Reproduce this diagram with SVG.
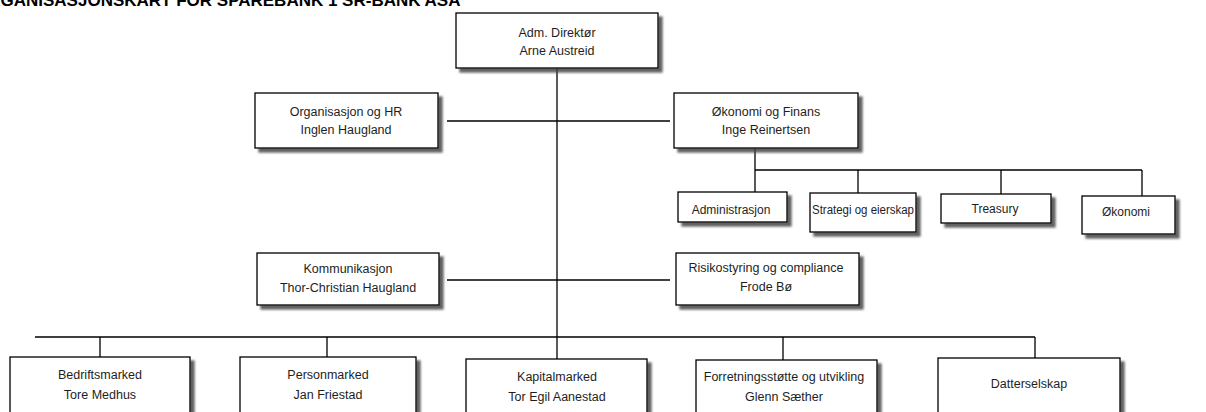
<svg xmlns="http://www.w3.org/2000/svg" width="1206" height="412" viewBox="0 0 1206 412">
<style>
.box{fill:#fff;stroke:#000;stroke-width:1.3}
.t{font-family:"Liberation Sans",Arial,sans-serif;font-size:12.5px;fill:#1e1e1e;text-anchor:middle}
.s{font-size:12px}
.ln{stroke:#000;stroke-width:1.3;fill:none}
.title{font-family:"Liberation Sans",Arial,sans-serif;font-size:17px;font-weight:bold;fill:#000}
</style>
<defs>
<filter id="sh" x="-10%" y="-10%" width="130%" height="140%">
<feDropShadow dx="4" dy="4" stdDeviation="1" flood-color="#444" flood-opacity="0.85"/>
</filter>
</defs>
<rect width="1206" height="412" fill="#fff"/>
<text class="title" x="-25" y="6">ORGANISASJONSKART FOR SPAREBANK 1 SR-BANK ASA</text>
<g id="connectors">
<path class="ln" d="M557 68V359"/>
<path class="ln" d="M447 121H670"/>
<path class="ln" d="M447 280H670"/>
<path class="ln" d="M755 148V192M755 170H1142M858 170V193M1001 170V194M1142 170V196"/>
<path class="ln" d="M35 337H1035M100 337V357M327 337V357M783 337V360M1035 337V358"/>
</g>
<g id="n-adm"><rect class="box" filter="url(#sh)" x="456" y="13" width="202" height="55"/><text class="t" x="557" y="37">Adm. Direktør</text><text class="t" x="557" y="55">Arne Austreid</text></g>
<g id="n-org"><rect class="box" filter="url(#sh)" x="255" y="93" width="183" height="55"/><text class="t" x="346" y="116">Organisasjon og HR</text><text class="t" x="346" y="134">Inglen Haugland</text></g>
<g id="n-okf"><rect class="box" filter="url(#sh)" x="674" y="93" width="184" height="55"/><text class="t" x="766" y="116">Økonomi og Finans</text><text class="t" x="766" y="134">Inge Reinertsen</text></g>
<g id="n-admin"><rect class="box" filter="url(#sh)" x="678" y="192" width="109" height="30"/><text class="t s" x="731" y="214">Administrasjon</text></g>
<g id="n-strat"><rect class="box" filter="url(#sh)" x="810" y="193" width="106" height="39"/><text class="t s" x="863" y="214" textLength="102" lengthAdjust="spacingAndGlyphs">Strategi og eierskap</text></g>
<g id="n-treas"><rect class="box" filter="url(#sh)" x="941" y="194" width="110" height="29"/><text class="t s" x="995" y="213">Treasury</text></g>
<g id="n-okon"><rect class="box" filter="url(#sh)" x="1082" y="196" width="93" height="38"/><text class="t s" x="1126" y="216">Økonomi</text></g>
<g id="n-komm"><rect class="box" filter="url(#sh)" x="257" y="253" width="182" height="52"/><text class="t" x="348" y="273">Kommunikasjon</text><text class="t" x="348" y="292">Thor-Christian Haugland</text></g>
<g id="n-risk"><rect class="box" filter="url(#sh)" x="676" y="253" width="183" height="52"/><text class="t" x="766" y="272">Risikostyring og compliance</text><text class="t" x="766" y="291">Frode Bø</text></g>
<g id="n-bm"><rect class="box" filter="url(#sh)" x="10" y="357" width="180" height="70"/><text class="t" x="100" y="379">Bedriftsmarked</text><text class="t" x="100" y="399">Tore Medhus</text></g>
<g id="n-pm"><rect class="box" filter="url(#sh)" x="240" y="357" width="176" height="70"/><text class="t" x="328" y="379">Personmarked</text><text class="t" x="328" y="399">Jan Friestad</text></g>
<g id="n-km"><rect class="box" filter="url(#sh)" x="466" y="359" width="181" height="70"/><text class="t" x="557" y="381">Kapitalmarked</text><text class="t" x="557" y="401">Tor Egil Aanestad</text></g>
<g id="n-fu"><rect class="box" filter="url(#sh)" x="696" y="360" width="181" height="70"/><text class="t" x="784" y="381">Forretningsstøtte og utvikling</text><text class="t" x="784" y="401">Glenn Sæther</text></g>
<g id="n-ds"><rect class="box" filter="url(#sh)" x="938" y="358" width="182" height="70"/><text class="t" x="1029" y="388">Datterselskap</text></g>
</svg>
